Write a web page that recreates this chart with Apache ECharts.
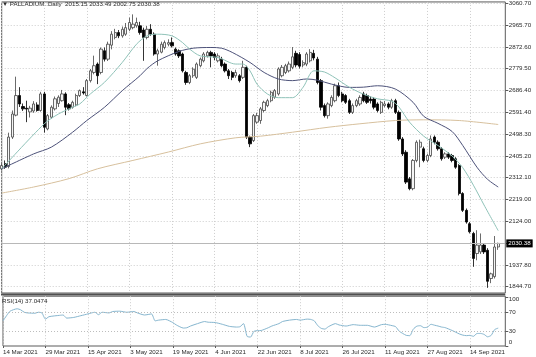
<!DOCTYPE html>
<html><head><meta charset="utf-8">
<script src="https://cdn.jsdelivr.net/npm/echarts@6/dist/echarts.min.js"></script>
<style>html,body{margin:0;padding:0;background:#fff}#c{width:536px;height:357px}</style>
</head><body><div id="c"></div>
<script>
const symbolName = 'PALLADIUM..Daily';
const tickLabels = ['14 Mar 2021','29 Mar 2021','15 Apr 2021','3 May 2021','19 May 2021','4 Jun 2021','22 Jun 2021','8 Jul 2021','26 Jul 2021','11 Aug 2021','27 Aug 2021','14 Sep 2021'];
const barsPerLabel = 12;
const slotCount = 143;
const priceTicks = [1844.7,1937.8,2030.9,2124.0,2219.0,2312.1,2405.2,2498.3,2591.4,2686.4,2779.5,2872.6,2965.7,3060.7];
const priceLabels = [1844.7,1937.8,2124.0,2219.0,2312.1,2405.2,2498.3,2591.4,2686.4,2779.5,2872.6,2965.7,3060.7];
const rsiTicks = [0,30,70,100];
const rsiLevels = [30,70];

const opens = [2350,2372,2360,2486,2580,2664,2617,2610,2594,2598,2624,2600,2671,2521,2571,2607,2630,2642,2671,2625,2614,2624,2664,2680,2664,2728,2763,2799,2763,2856,2820,2880,2913,2934,2920,2927,2948,2955,2963,2963,2945,2913,2948,2927,2842,2850,2870,2884,2891,2863,2856,2842,2763,2720,2749,2742,2792,2813,2834,2849,2842,2813,2820,2799,2770,2763,2749,2749,2742,2785,2486,2471,2550,2557,2600,2621,2642,2657,2671,2749,2763,2770,2785,2845,2840,2795,2799,2813,2845,2820,2728,2621,2578,2621,2642,2706,2671,2664,2642,2592,2621,2628,2671,2664,2649,2649,2628,2592,2621,2628,2614,2642,2592,2478,2421,2307,2265,2386,2443,2436,2386,2407,2486,2464,2436,2400,2414,2407,2393,2364,2244,2172,2115,2073,1987,1994,2023,2001,1880,1888,2015.15];
const closes = [2364,2357,2486,2585,2664,2628,2607,2606,2610,2628,2600,2671,2528,2578,2614,2650,2657,2671,2614,2607,2635,2664,2685,2675,2728,2770,2792,2749,2863,2820,2884,2927,2934,2920,2948,2955,2977,2970,2977,2934,2913,2948,2927,2842,2856,2884,2891,2891,2877,2842,2834,2770,2720,2749,2777,2799,2820,2842,2849,2834,2827,2834,2792,2770,2749,2742,2763,2728,2785,2486,2457,2578,2578,2607,2635,2642,2678,2685,2778,2785,2792,2799,2830,2795,2790,2805,2842,2849,2825,2720,2614,2578,2628,2656,2706,2664,2642,2635,2592,2621,2642,2656,2642,2635,2642,2614,2600,2635,2628,2614,2642,2592,2478,2414,2293,2265,2386,2464,2464,2386,2407,2478,2464,2436,2393,2414,2400,2386,2357,2244,2172,2122,2080,1966,2023,2023,1994,1868,1900,2015,2030.38];
const lows = [2343,2350,2352,2478,2575,2615,2598,2550,2570,2590,2595,2595,2505,2515,2565,2600,2615,2638,2580,2600,2608,2618,2658,2668,2660,2720,2755,2713,2755,2810,2812,2862,2905,2910,2912,2920,2940,2948,2955,2925,2813,2905,2920,2835,2792,2845,2862,2875,2870,2835,2825,2763,2710,2713,2740,2735,2785,2806,2827,2785,2815,2806,2785,2763,2735,2730,2740,2720,2735,2478,2443,2465,2543,2543,2592,2614,2635,2650,2664,2742,2756,2763,2777,2785,2780,2785,2790,2806,2815,2712,2600,2570,2565,2614,2635,2657,2635,2628,2585,2585,2614,2620,2635,2628,2630,2605,2592,2585,2614,2605,2607,2585,2470,2405,2285,2258,2258,2378,2357,2378,2378,2400,2455,2428,2385,2392,2392,2378,2350,2236,2165,2115,2073,1930,1958,1985,1985,1840,1860,1880,2002.75];
const highs = [2372,2386,2505,2600,2745,2700,2630,2642,2620,2640,2635,2680,2680,2585,2622,2660,2665,2688,2678,2632,2642,2672,2690,2700,2735,2778,2835,2806,2870,2870,2895,2940,2950,2945,2960,2975,2998,3012,2998,2980,2955,2962,2970,2935,2865,2895,2900,2905,2913,2870,2862,2848,2770,2756,2785,2806,2827,2850,2856,2856,2850,2845,2830,2806,2778,2770,2775,2756,2813,2792,2492,2585,2590,2615,2642,2650,2685,2692,2785,2795,2800,2810,2872,2856,2850,2815,2850,2863,2860,2830,2735,2630,2635,2665,2715,2720,2680,2670,2650,2630,2650,2665,2680,2672,2660,2657,2635,2642,2640,2635,2650,2650,2600,2486,2430,2315,2392,2472,2475,2445,2415,2493,2493,2472,2443,2421,2421,2414,2400,2370,2250,2180,2122,2080,2087,2073,2030,2010,1905,2062,2033.49];

// moving averages: [bar, value]
const fastMaPoints = [[0,2350],[12,2543],[16,2585],[20,2614],[22,2628],[25,2671],[29,2721],[34,2806],[38,2884],[41,2920],[44,2927],[48,2920],[51,2891],[53,2863],[56,2834],[61,2827],[66,2799],[68,2799],[70,2770],[72,2713],[75,2670],[78,2655],[82,2655],[85,2700],[88,2770],[91,2765],[94,2740],[98,2700],[102,2670],[106,2650],[110,2640],[112,2615],[115,2550],[119,2490],[123,2450],[127,2405],[130,2355],[133,2280],[136,2195],[140,2085]];
const slowMaPoints = [[0,2350],[9,2414],[14,2443],[20,2507],[24,2557],[29,2614],[34,2685],[39,2749],[41,2780],[44,2813],[50,2853],[54,2867],[59,2870],[62,2867],[65,2849],[70,2806],[74,2763],[78,2735],[82,2728],[86,2735],[89,2730],[93,2713],[98,2699],[102,2700],[106,2706],[111,2692],[116,2635],[119,2575],[123,2545],[127,2510],[130,2450],[134,2357],[137,2305],[140,2272]];
const longMaPoints = [[0,2246],[9,2272],[19,2308],[27,2350],[37,2386],[47,2422],[56,2457],[66,2483],[73,2490],[82,2507],[92,2528],[101,2543],[111,2557],[119,2560],[129,2557],[140,2540]];
const rsiPoints = [[0,52],[1,62.7],[2,72],[4,77],[5,74.8],[6,69.8],[7,68.4],[9,67.7],[10,69.8],[11,68.4],[12,55.6],[13,60.6],[16,63.4],[17,64.1],[18,57.7],[20,59.1],[22,62.7],[24,66.3],[25,68.4],[26,69.8],[27,64.8],[28,69.8],[30,68.4],[31,71.3],[33,72],[35,69.8],[37,71.3],[38,68.4],[40,64.1],[42,66.3],[43,52],[44,53.5],[46,54.9],[48,48.5],[49,43.5],[51,37.1],[52,37.8],[53,41.3],[55,46.3],[57,50.6],[58,49.2],[60,48.5],[62,44.9],[64,40.6],[66,39.2],[67,39.9],[68,46.3],[69,20],[70,18.5],[71,30.7],[73,32.1],[75,37.8],[76,41.3],[78,46.3],[79,50.6],[81,53.5],[83,54.9],[84,53.5],[86,55.6],[87,55],[88,52],[89,42],[90,36.4],[91,35],[92,40],[94,46.3],[95,43.5],[97,41.3],[99,44.2],[101,42.8],[103,42.8],[105,39.2],[107,44.2],[108,44.9],[110,42.1],[111,40],[112,30.7],[113,26],[114,22],[115,21.4],[116,35],[117,41],[118,42],[119,38],[120,39],[121,44.9],[122,43],[123,41.3],[124,39.2],[125,38],[127,32],[128,28.5],[129,25],[130,22.5],[131,21.4],[132,22],[133,20],[134,26],[135,26],[136,24],[137,19],[138,22],[139,34],[140,37.0474]];

const categories = Array.from({length: slotCount}, (_, i) => String(i));
function sparse(points){ const a = new Array(slotCount).fill(null); points.forEach(p => { a[p[0]] = p[1]; }); return a; }
const candleData = opens.map((o, i) => [o, closes[i], lows[i], highs[i]]);
const last = candleData.length - 1;
const lastRsi = rsiPoints[rsiPoints.length - 1][1];

const font = '"Liberation Sans", Arial, sans-serif';
const fs = 6.2;
const txt = '#2b2b2b';
const gridLineStyle = {color: '#cdcdcd', type: [1, 2], width: 1};
const G = {left: 1.7, width: 503.6};

const chart = echarts.init(document.getElementById('c'), null, {renderer: 'canvas', width: 536, height: 357});
chart.setOption({
  animation: false,
  backgroundColor: '#ffffff',
  textStyle: {fontFamily: font},
  title: {
    text: '\u25BC ' + symbolName + '  ' + [opens[last], highs[last], lows[last], closes[last]].map(v => v.toFixed(2)).join(' '),
    left: 2, top: 1.5, padding: 0,
    textStyle: {fontSize: fs, fontWeight: 'normal', color: txt, fontFamily: font}
  },
  graphic: [
    {type: 'rect', shape: {x: 1, y: 293.5, width: 504.3, height: 2}, style: {fill: '#505050'}, z: 10},
    {type: 'text', left: 2, top: 298.2, style: {text: 'RSI(14) ' + lastRsi.toFixed(4), fontSize: fs, fill: txt, fontFamily: font}, z: 10}
  ],
  grid: [
    {left: G.left, top: 1, width: G.width, height: 292, show: true, borderColor: '#5a5a5a', borderWidth: 1},
    {left: G.left, top: 296.2, width: G.width, height: 49.8, show: true, borderColor: '#5a5a5a', borderWidth: 1}
  ],
  xAxis: [
    {type: 'category', gridIndex: 0, data: categories, boundaryGap: false,
     axisLine: {show: false}, axisTick: {show: false}, axisLabel: {show: false},
     splitLine: {show: true, interval: barsPerLabel - 1, lineStyle: gridLineStyle}},
    {type: 'category', gridIndex: 1, data: categories, boundaryGap: false,
     axisLine: {show: false},
     axisTick: {show: true, interval: barsPerLabel - 1, length: 2, lineStyle: {color: '#5a5a5a'}},
     axisLabel: {show: true, interval: barsPerLabel - 1, align: 'left', margin: 3, fontSize: fs, color: txt, fontFamily: font,
       formatter: (v, i) => (i % barsPerLabel === 0 && tickLabels[i / barsPerLabel]) ? tickLabels[i / barsPerLabel] : ''},
     splitLine: {show: true, interval: barsPerLabel - 1, lineStyle: gridLineStyle}}
  ],
  yAxis: [
    {type: 'value', gridIndex: 0, position: 'right', min: 1817.8, max: 3065.2,
     axisLine: {show: false},
     axisTick: {show: true, length: 3, lineStyle: {color: '#5a5a5a'}, customValues: priceTicks},
     axisLabel: {show: true, customValues: priceLabels, formatter: v => Number(v).toFixed(2), margin: 3.5, fontSize: fs, color: txt, fontFamily: font},
     splitLine: {show: true, lineStyle: gridLineStyle}},
    {type: 'value', gridIndex: 1, position: 'right', min: 0, max: 103,
     axisLine: {show: false},
     axisTick: {show: true, length: 3, lineStyle: {color: '#5a5a5a'}, customValues: rsiTicks},
     axisLabel: {show: true, customValues: rsiTicks, margin: 3.5, fontSize: fs, color: txt, fontFamily: font,
       formatter: v => v === 100 ? '{t|100}' : (v === 0 ? '{b|0}' : String(v)),
       rich: {t: {padding: [4, 0, 0, 0], fontSize: fs, color: txt, fontFamily: font}, b: {padding: [0, 0, 7, 0], fontSize: fs, color: txt, fontFamily: font}}},
     splitLine: {show: false}}
  ],
  series: [
    {type: 'candlestick', name: 'PALLADIUM', xAxisIndex: 0, yAxisIndex: 0, data: candleData, barWidth: 2.8, z: 2,
     itemStyle: {color: '#f4f4f4', color0: '#000000', borderColor: '#454545', borderColor0: '#000000', borderWidth: 0.8},
     markLine: {symbol: ['none', 'none'], silent: true, animation: false,
       data: [{yAxis: closes[last]}],
       lineStyle: {color: '#b8b8b8', type: 'solid', width: 1},
       label: {show: true, position: 'end', distance: 1, formatter: p => Number(p.value).toFixed(2), backgroundColor: '#000', color: '#fff', fontSize: fs, padding: [1, 2, 1, 2], fontFamily: font}}},
    {type: 'line', name: 'MA long', xAxisIndex: 0, yAxisIndex: 0, data: sparse(longMaPoints), connectNulls: true, smooth: 0.3, showSymbol: false, z: 3,
     lineStyle: {color: '#d7c09d', width: 1}},
    {type: 'line', name: 'MA slow', xAxisIndex: 0, yAxisIndex: 0, data: sparse(slowMaPoints), connectNulls: true, smooth: 0.3, showSymbol: false, z: 3,
     lineStyle: {color: '#4d5279', width: 1}},
    {type: 'line', name: 'MA fast', xAxisIndex: 0, yAxisIndex: 0, data: sparse(fastMaPoints), connectNulls: true, smooth: 0.3, showSymbol: false, z: 3,
     lineStyle: {color: '#8fc2b8', width: 1}},
    {type: 'line', name: 'RSI(14)', xAxisIndex: 1, yAxisIndex: 1, data: sparse(rsiPoints), connectNulls: true, smooth: 0.2, showSymbol: false,
     lineStyle: {color: '#86b6cf', width: 1},
     markLine: {symbol: ['none', 'none'], silent: true, animation: false, label: {show: false},
       data: rsiLevels.map(v => ({yAxis: v})), lineStyle: {color: '#bdbdbd', type: [1, 2], width: 1}}}
  ]
});
</script>
</body></html>
